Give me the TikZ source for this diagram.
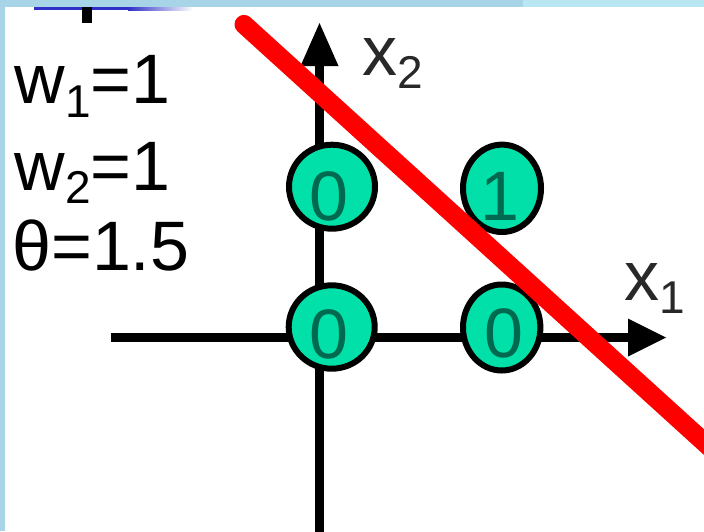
\documentclass[tikz,border=0pt]{standalone}
\usepackage{fontspec}
\setmainfont{Liberation Sans}
\usetikzlibrary{shapes.geometric}
\definecolor{dotfill}{RGB}{0,224,168}
\definecolor{digitcol}{RGB}{0,105,80}
\definecolor{axlabel}{RGB}{40,40,40}
\definecolor{edgeblue}{RGB}{168,212,232}
\definecolor{edgecyan}{RGB}{184,230,242}
\definecolor{barblue}{RGB}{48,48,200}
\newcommand{\subsz}{\fontsize{46}{46}\selectfont}
\begin{document}
\begin{tikzpicture}[x=1pt,y=-1pt,
  big/.style={font=\fontsize{70}{80}\selectfont, inner sep=0pt, anchor=base west},
  axlab/.style={big, text=axlabel},
  digit/.style={font=\fontsize{70}{80}\selectfont, inner sep=0pt, anchor=base, text=digitcol},
  dot/.style={ellipse, draw=black, line width=6pt, fill=dotfill, inner sep=0pt},
  axis/.style={line width=8.5pt, black},
  sepline/.style={red, line width=19pt, line cap=round}]
\useasboundingbox (0,0) rectangle (704,531);
\fill[white] (0,0) rectangle (704,531);
% screenshot frame
\fill[edgeblue] (0,0) rectangle (704,7);
\fill[edgecyan] (523,0) rectangle (704,7);
\fill[edgeblue] (0,0) rectangle (5,531);
\fill[barblue] (34,7) rectangle (128,10);
\shade[left color=barblue, right color=white] (128,7) rectangle (193,10);
\fill[black] (82,7) rectangle (92,23);
% axes
\coordinate (hs) at (111,337.5);
\coordinate (he) at (630,337.5);
\coordinate (htip) at (666,337.5);
\coordinate (vs) at (319.5,540);
\coordinate (ve) at (319.5,62);
\coordinate (vtip) at (319.5,23);
\draw[axis] (hs) -- (he);
\fill (htip) -- (628,318.5) -- (628,356.5) -- cycle;
\draw[axis] (vs) -- (ve);
\fill (vtip) -- (300.5,66) -- (338.5,66) -- cycle;
% points
\node[dot, minimum width=86pt, minimum height=84pt] (c01) at (332,186.7) {};
\node[dot, minimum width=78pt, minimum height=87.4pt] (c11) at (502,188.3) {};
\node[dot, minimum width=86pt, minimum height=83.4pt] (c00) at (331.7,327) {};
\node[dot, minimum width=77.4pt, minimum height=86pt] (c10) at (501.7,327.5) {};
\node[digit] (d01) at (328.5,220) {0};
\node[digit] (d11) at (500,220) {1};
\node[digit] (d00) at (328.5,358) {0};
\node[digit] (d10) at (503.5,357) {0};
% separating line
\coordinate (r1) at (244,24.4);
\coordinate (r2) at (730,465.7);
\draw[sepline] (r1) -- (r2);
% labels
\node[big] (w1) at (14.5,103) {w\lower14pt\hbox{\subsz 1}=1};
\node[big] (w2) at (14.5,190) {w\lower13pt\hbox{\subsz 2}=1};
\node[big] (th) at (12,270) {θ=1.5};
\node[axlab] (x2) at (362,75) {x\lower13pt\hbox{\subsz 2}};
\node[axlab] (x1) at (624,300) {x\lower13pt\hbox{\subsz 1}};
\end{tikzpicture}
\end{document}
